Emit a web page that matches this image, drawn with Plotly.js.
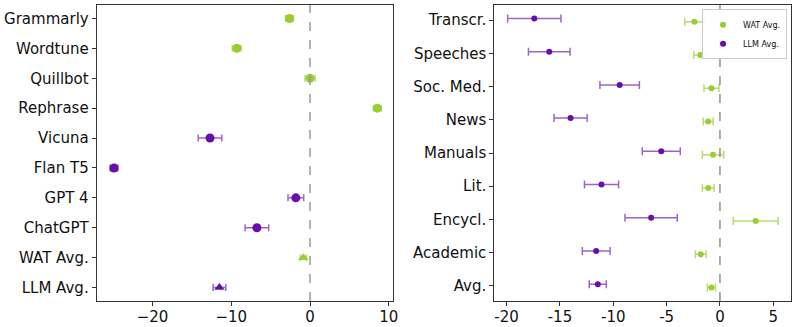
<!DOCTYPE html>
<html>
<head>
<meta charset="utf-8">
<script src="https://cdn.plot.ly/plotly-3.0.1.min.js"></script>
<style>html,body{margin:0;padding:0;background:#fff;}#chart{width:797px;height:327px;}</style>
</head>
<body>
<div id="chart"></div>
<script>
// Left panel
const leftLabels = ["Grammarly","Wordtune","Quillbot","Rephrase","Vicuna","Flan T5","GPT 4","ChatGPT","WAT Avg.","LLM Avg."];
const watNames = ["Grammarly","Wordtune","Quillbot","Rephrase","WAT Avg."];
const watValues = [-2.6, -9.3, 0.0, 8.55, -0.85];
const watErrors = [0.5, 0.57, 0.64, 0.5, 0.4];
const watSymbols = ["circle","circle","circle","circle","triangle-up"];
const llmNames = ["Vicuna","Flan T5","GPT 4","ChatGPT","LLM Avg."];
const llmValues = [-12.7, -24.9, -1.8, -6.75, -11.5];
const llmErrors = [1.5, 0.5, 1.0, 1.5, 0.8];
const llmSymbols = ["circle","circle","circle","circle","triangle-up"];

// Right panel
const domains = ["Transcr.","Speeches","Soc. Med.","News","Manuals","Lit.","Encycl.","Academic","Avg."];
const watAvgByDomain = [-2.4, -1.85, -0.8, -1.1, -0.65, -1.1, 3.35, -1.8, -0.8];
const watAvgErr = [0.9, 0.6, 0.7, 0.47, 1.0, 0.55, 2.1, 0.5, 0.38];
const llmAvgByDomain = [-17.4, -16.0, -9.4, -14.0, -5.5, -11.1, -6.45, -11.6, -11.45];
const llmAvgErr = [2.5, 1.95, 1.85, 1.55, 1.78, 1.6, 2.45, 1.3, 0.8];
const rightTicks = [-20, -15, -10, -5, 0, 5];

const green = "#9acd32";
const purple = "#6a0dad";
const greenErr = "rgba(154,205,50,0.7)";
const purpleErr = "rgba(125,50,180,0.75)";

const idx = name => leftLabels.indexOf(name);

const traces = [
  {type:"scatter", mode:"markers", x: watValues, y: watNames.map(idx), xaxis:"x", yaxis:"y",
   marker:{color:green, size:9, symbol:watSymbols},
   error_x:{type:"data", array:watErrors, visible:true, color:greenErr, thickness:1.5, width:3.5},
   showlegend:false, hoverinfo:"x"},
  {type:"scatter", mode:"markers", x: llmValues, y: llmNames.map(idx), xaxis:"x", yaxis:"y",
   marker:{color:purple, size:9, symbol:llmSymbols},
   error_x:{type:"data", array:llmErrors, visible:true, color:purpleErr, thickness:1.5, width:3.5},
   showlegend:false, hoverinfo:"x"},
  {type:"scatter", mode:"markers", name:"WAT Avg.", x: watAvgByDomain, y: domains.map((d,i)=>i+0.05), xaxis:"x2", yaxis:"y2",
   marker:{color:green, size:6, symbol:"circle"},
   error_x:{type:"data", array:watAvgErr, visible:true, color:greenErr, thickness:1.5, width:4}},
  {type:"scatter", mode:"markers", name:"LLM Avg.", x: llmAvgByDomain, y: domains.map((d,i)=>i-0.05), xaxis:"x2", yaxis:"y2",
   marker:{color:purple, size:6, symbol:"circle"},
   error_x:{type:"data", array:llmAvgErr, visible:true, color:purpleErr, thickness:1.5, width:4}}
];

const axisCommon = {
  showline:true, mirror:true, linecolor:"#333", linewidth:1,
  ticks:"outside", ticklen:4, tickcolor:"#333", tickwidth:1,
  showgrid:false, zeroline:false,
  tickfont:{family:"DejaVu Sans", size:15, color:"#111"}
};

const layout = {
  width:797, height:327,
  margin:{l:0, r:0, t:0, b:0},
  paper_bgcolor:"#fff", plot_bgcolor:"#fff",
  font:{family:"DejaVu Sans"},
  xaxis: Object.assign({}, axisCommon, {domain:[0.1213,0.4927], range:[-27.1,10.5], tickvals:[-20,-10,0,10], anchor:"y", ticklabelstandoff:-2}),
  yaxis: Object.assign({}, axisCommon, {domain:[0.0795,0.9847], range:[9.45,-0.45],
          tickvals: leftLabels.map((l,i)=>i), ticktext: leftLabels, anchor:"x"}),
  xaxis2: Object.assign({}, axisCommon, {domain:[0.6202,0.9921], range:[-21.15,6.63],
          tickvals: rightTicks, ticktext: rightTicks.map(v=>String(v)), anchor:"y2", ticklabelstandoff:-2}),
  yaxis2: Object.assign({}, axisCommon, {domain:[0.0795,0.9847], range:[8.455,-0.455],
          tickvals: domains.map((d,i)=>i), ticktext: domains, anchor:"x2"}),
  shapes:[
    {type:"line", xref:"x", yref:"y domain", x0:0, x1:0, y0:0, y1:1, line:{color:"#999", width:1.5, dash:"dash"}},
    {type:"line", xref:"x2", yref:"y2 domain", x0:0, x1:0, y0:0, y1:1, line:{color:"#777", width:1.2, dash:"dash"}}
  ],
  legend:{x:0.9875, y:0.972, xanchor:"right", yanchor:"top", bgcolor:"rgba(255,255,255,0.9)",
          bordercolor:"#ccc", borderwidth:1, font:{family:"DejaVu Sans", size:8, color:"#111"},
          itemwidth:30, tracegroupgap:0},
  showlegend:true
};

Plotly.newPlot("chart", traces, layout, {displayModeBar:false, staticPlot:true});
</script>
</body>
</html>
